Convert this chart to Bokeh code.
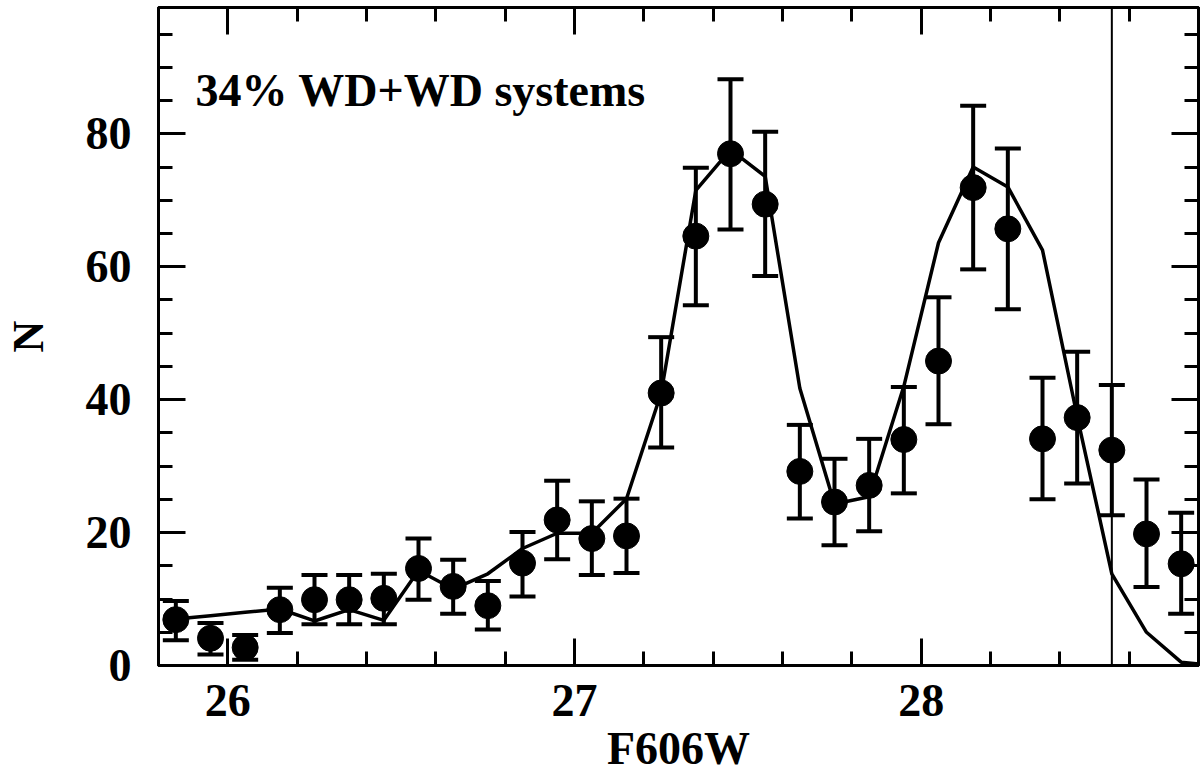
from bokeh.plotting import figure
from bokeh.models import (ColumnDataSource, Whisker, TeeHead, Span, Label,
                          LinearAxis, SingleIntervalTicker, Range1d)
from bokeh.embed import file_html
from bokeh.resources import INLINE

# ---- data ----
mags = [25.85, 25.95, 26.05, 26.15, 26.25, 26.35, 26.45, 26.55, 26.65, 26.75,
        26.85, 26.95, 27.05, 27.15, 27.25, 27.35, 27.45, 27.55, 27.65, 27.75,
        27.85, 27.95, 28.05, 28.15, 28.25, 28.35, 28.45, 28.55, 28.65, 28.75]
counts = [6.9, 4.1, 2.7, 8.4, 9.9, 9.9, 10.1, 14.6, 11.9, 9.0,
          15.4, 21.9, 19.1, 19.5, 41.0, 64.6, 77.0, 69.4, 29.2, 24.6,
          27.1, 34.0, 45.8, 71.9, 65.7, 34.1, 37.3, 32.4, 19.8, 15.3]
err_upper = [9.7, 6.4, 4.6, 11.7, 13.6, 13.6, 13.8, 19.1, 15.9, 12.7,
             20.1, 27.8, 24.7, 25.1, 49.4, 74.9, 88.2, 80.3, 36.2, 31.1,
             34.1, 41.9, 55.4, 84.2, 77.8, 43.3, 47.2, 42.2, 28.0, 23.0]
err_lower = [3.8, 1.65, 0.85, 4.9, 6.2, 6.2, 6.2, 9.9, 7.8, 5.4,
             10.4, 16.0, 13.6, 13.9, 32.8, 54.2, 65.6, 58.6, 22.1, 18.1,
             20.2, 25.9, 36.3, 59.6, 53.6, 25.0, 27.4, 22.6, 11.8, 7.8]

model_mags = [25.85, 25.95, 26.05, 26.15, 26.25, 26.35, 26.45, 26.55, 26.65, 26.75,
              26.85, 26.95, 27.05, 27.15, 27.25, 27.35, 27.45, 27.55, 27.65, 27.75,
              27.85, 27.95, 28.05, 28.15, 28.25, 28.35, 28.45, 28.55, 28.65, 28.75, 28.85]
model_counts = [7.0, 7.5, 8.0, 8.5, 6.7, 8.4, 6.8, 14.3, 11.5, 13.8,
                17.6, 19.9, 19.9, 25.1, 41.0, 71.5, 77.6, 73.6, 41.7, 24.3,
                25.4, 42.0, 63.6, 75.0, 72.0, 62.5, 37.5, 13.8, 5.0, 0.5, 0.0]

completeness_limit = 28.55
annotation = "34% WD+WD systems"
x_title = "F606W"
y_title = "N"

FONT = "Liberation Serif"

p = figure(width=1200, height=776,
           x_range=Range1d(25.8, 28.8), y_range=Range1d(0, 99),
           output_backend="svg", toolbar_location=None,
           min_border_left=154, min_border_right=2,
           min_border_top=7, min_border_bottom=111)
p.grid.visible = False
p.outline_line_color = "black"
p.outline_line_width = 3
p.background_fill_color = "white"
p.border_fill_color = "white"

xticker = SingleIntervalTicker(interval=1, num_minor_ticks=5)
yticker = SingleIntervalTicker(interval=20, num_minor_ticks=4)


def style_axis(ax, show_labels):
    ax.axis_line_width = 3
    ax.axis_line_color = "black"
    ax.major_tick_line_width = 3
    ax.minor_tick_line_width = 3
    ax.major_tick_in = 27
    ax.major_tick_out = 0
    ax.minor_tick_in = 14
    ax.minor_tick_out = 0
    ax.major_label_text_font = FONT
    ax.major_label_text_font_style = "bold"
    if show_labels:
        ax.major_label_text_color = "black"
        ax.major_label_text_font_size = "46px"
    else:
        ax.major_label_text_color = None
        ax.major_label_text_font_size = "1px"
        ax.major_label_standoff = 0


xb = p.xaxis[0]
xb.ticker = xticker
style_axis(xb, True)
xb.major_label_standoff = 19
xb.axis_label = x_title
xb.axis_label_text_font = FONT
xb.axis_label_text_font_style = "bold"
xb.axis_label_text_font_size = "46px"
xb.axis_label_text_color = "black"
xb.axis_label_standoff = 4

yl = p.yaxis[0]
yl.ticker = yticker
style_axis(yl, True)
yl.major_label_standoff = 27
yl.axis_label = y_title
yl.axis_label_text_font = FONT
yl.axis_label_text_font_style = "bold"
yl.axis_label_text_font_size = "44px"
yl.axis_label_text_color = "black"
yl.axis_label_standoff = 30

xt = LinearAxis(ticker=xticker)
style_axis(xt, False)
p.add_layout(xt, "above")
yr = LinearAxis(ticker=yticker)
style_axis(yr, False)
p.add_layout(yr, "right")

src = ColumnDataSource(dict(x=mags, y=counts, upper=err_upper, lower=err_lower))

p.add_layout(Span(location=completeness_limit, dimension="height",
                  line_color="black", line_width=2))

p.line(model_mags, model_counts, line_color="black", line_width=3.5)

p.add_layout(Whisker(source=src, base="x", upper="upper", lower="lower",
                     line_color="black", line_width=4,
                     upper_head=TeeHead(size=26, line_width=4, line_color="black"),
                     lower_head=TeeHead(size=26, line_width=4, line_color="black")))

p.scatter("x", "y", source=src, size=26, fill_color="black", line_color="black")

p.add_layout(Label(x=25.907, y=86.5, text=annotation, text_font=FONT,
                   text_font_style="bold", text_font_size="46px",
                   text_color="black", text_baseline="alphabetic"))

open("out.html", "w").write(file_html(p, INLINE))
